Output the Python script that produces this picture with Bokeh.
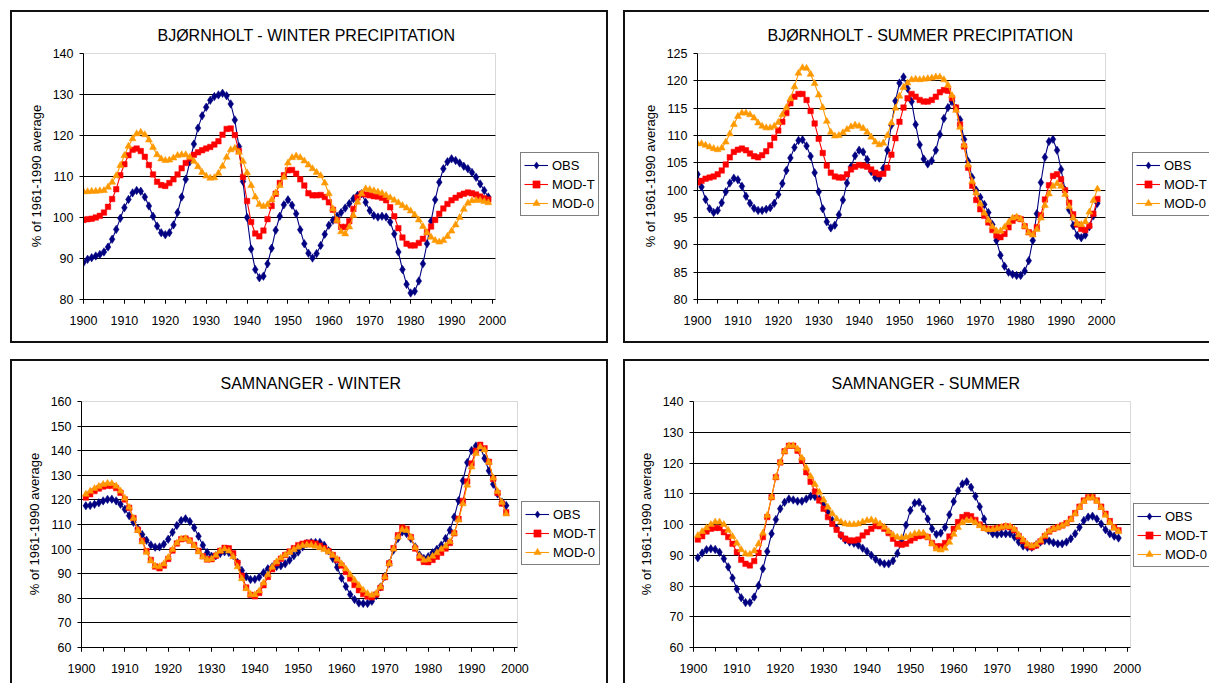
from bokeh.plotting import figure
from bokeh.models import (Range1d, SingleIntervalTicker, FixedTicker, Legend, LegendItem,
                          BoxAnnotation)
from bokeh.layouts import row, column
from bokeh.embed import file_html
from bokeh.resources import INLINE

FONT = "Liberation Sans"
C_OBS, C_MODT, C_MOD0 = "#000080", "#FF0000", "#FF9900"
YLABEL = "% of 1961-1990 average"
SERIES_NAMES = ["OBS", "MOD-T", "MOD-0"]

# ---------------- BJØRNHOLT - WINTER (1900-1999) ----------------
bw_years = list(range(1900, 2000))
bw_obs = [89.0, 89.8, 90.2, 90.6, 91.0, 91.6, 92.8, 94.7, 97.1, 99.8,
          102.4, 104.4, 106.0, 106.6, 106.4, 105.0, 102.8, 100.3, 97.9, 96.3,
          95.8, 96.3, 98.2, 101.2, 105.0, 109.3, 113.6, 117.9, 121.8, 124.8,
          126.9, 128.6, 129.5, 129.9, 130.3, 129.7, 127.7, 123.8, 117.3, 108.8,
          100.0, 92.3, 87.3, 85.3, 85.7, 88.7, 92.5, 96.9, 100.3, 103.1,
          104.3, 103.0, 100.9, 97.0, 93.6, 91.3, 90.1, 91.2, 93.2, 95.9,
          98.1, 99.3, 100.3, 101.2, 102.3, 103.4, 104.6, 105.4, 105.8, 103.7,
          101.7, 100.5, 100.1, 100.3, 100.1, 98.9, 96.0, 91.6, 87.3, 83.7,
          81.6, 82.0, 84.5, 88.7, 93.6, 99.1, 104.3, 108.6, 111.9, 113.6,
          114.3, 113.9, 113.3, 112.5, 111.9, 111.0, 109.8, 108.2, 106.6, 105.0]
bw_modt = [99.4, 99.6, 99.7, 100.0, 100.4, 101.2, 102.6, 104.5, 106.9, 110.3,
           113.0, 115.2, 116.5, 116.8, 116.2, 114.8, 112.8, 110.5, 108.7, 107.9,
           107.7, 108.4, 109.3, 110.5, 112.0, 113.3, 114.4, 115.3, 115.9, 116.4,
           116.8, 117.2, 117.8, 118.6, 120.2, 121.6, 121.7, 120.1, 116.2, 109.9,
           104.0, 98.9, 96.1, 95.4, 96.8, 99.6, 102.8, 105.8, 108.4, 110.3,
           111.5, 111.6, 110.7, 109.3, 107.8, 105.9, 105.4, 105.4, 105.5, 105.0,
           103.7, 101.9, 99.3, 97.7, 97.7, 99.1, 102.1, 104.9, 105.8, 105.6,
           105.4, 105.2, 105.1, 104.8, 104.2, 102.5, 100.3, 97.4, 95.1, 93.6,
           93.2, 93.2, 93.8, 94.8, 96.4, 97.8, 99.4, 100.9, 102.2, 103.3,
           104.2, 104.8, 105.4, 105.8, 106.1, 105.9, 105.6, 105.1, 104.7, 104.4]
bw_mod0 = [106.3, 106.3, 106.4, 106.4, 106.5, 106.6, 107.4, 108.6, 110.2, 112.7,
           115.1, 117.4, 119.2, 120.4, 120.8, 120.2, 118.9, 117.1, 115.3, 114.3,
           113.9, 114.0, 114.5, 115.1, 115.3, 115.3, 114.7, 113.7, 112.4, 111.0,
           110.1, 109.6, 109.7, 110.8, 112.5, 114.7, 116.5, 116.9, 115.9, 113.7,
           110.9, 107.8, 105.0, 103.2, 102.7, 103.1, 104.3, 106.0, 107.8, 109.8,
           113.3, 114.6, 115.0, 114.6, 113.8, 112.8, 111.9, 111.0, 110.2, 108.4,
           105.8, 102.1, 99.3, 96.5, 96.0, 97.7, 100.5, 103.7, 105.8, 107.0,
           106.8, 106.5, 106.2, 105.9, 105.4, 104.8, 104.2, 103.6, 102.9, 102.3,
           101.6, 100.6, 99.4, 97.8, 96.3, 95.2, 94.4, 94.0, 94.4, 95.4,
           96.7, 98.2, 100.0, 102.0, 103.5, 104.1, 104.2, 104.2, 103.9, 103.6]

# ---------------- BJØRNHOLT - SUMMER (1900-1999) ----------------
bs_years = list(range(1900, 2000))
bs_obs = [102.9, 100.6, 98.3, 96.6, 95.9, 96.3, 97.7, 99.7, 101.3, 102.2,
          101.9, 100.7, 98.9, 97.6, 96.7, 96.3, 96.3, 96.5, 96.8, 97.6,
          99.2, 101.2, 103.6, 105.9, 107.8, 109.1, 109.2, 108.1, 106.2, 103.2,
          99.7, 96.6, 94.2, 93.1, 93.6, 95.5, 98.2, 101.3, 104.3, 106.3,
          107.3, 107.0, 105.6, 103.4, 102.3, 102.2, 104.0, 107.3, 111.9, 116.3,
          119.6, 120.7, 118.6, 116.2, 112.0, 108.3, 105.7, 104.8, 105.4, 107.3,
          110.2, 113.1, 115.1, 116.2, 115.0, 112.9, 109.3, 105.3, 102.3, 100.0,
          98.7, 97.4, 95.9, 93.7, 90.8, 88.1, 86.1, 85.0, 84.6, 84.4,
          84.4, 85.2, 87.1, 90.8, 95.7, 101.4, 106.0, 108.9, 109.3, 107.3,
          103.8, 100.0, 96.4, 93.5, 91.7, 91.3, 91.8, 93.3, 95.3, 97.6]
bs_modt = [101.4, 101.7, 102.1, 102.3, 102.5, 102.9, 103.6, 104.7, 106.0, 107.0,
           107.4, 107.6, 107.3, 106.7, 106.2, 106.0, 106.4, 107.1, 108.2, 109.6,
           110.9, 112.5, 114.1, 115.9, 117.1, 117.6, 117.6, 116.5, 114.5, 112.2,
           109.4, 106.8, 104.5, 103.2, 102.5, 102.3, 102.3, 102.9, 103.8, 104.3,
           104.6, 104.5, 104.3, 103.8, 103.2, 102.9, 103.0, 104.1, 106.5, 109.5,
           112.5, 115.1, 116.8, 117.6, 117.1, 116.5, 116.2, 116.2, 116.5, 117.1,
           117.9, 118.3, 118.2, 116.8, 115.1, 112.0, 108.0, 104.1, 100.8, 98.2,
           96.5, 95.3, 94.1, 92.7, 91.7, 91.4, 92.0, 93.2, 94.4, 94.9,
           94.7, 93.4, 92.3, 92.0, 93.2, 95.4, 98.3, 100.9, 102.6, 102.9,
           102.0, 100.0, 97.7, 95.6, 93.7, 92.9, 92.7, 93.5, 95.7, 98.4]
bs_mod0 = [108.5, 108.5, 108.2, 107.9, 107.6, 107.4, 107.7, 108.8, 110.3, 112.0,
           113.5, 114.1, 114.1, 113.8, 113.2, 112.3, 111.7, 111.4, 111.4, 111.7,
           112.4, 113.8, 115.1, 116.7, 118.9, 121.4, 122.4, 122.3, 121.2, 119.5,
           117.4, 115.1, 112.6, 110.6, 109.9, 110.0, 110.5, 111.1, 111.6, 111.9,
           111.7, 111.3, 110.6, 109.7, 108.8, 108.3, 108.6, 110.0, 112.3, 115.0,
           117.2, 118.8, 119.6, 120.2, 120.3, 120.2, 120.3, 120.4, 120.5, 120.7,
           120.7, 120.2, 119.2, 117.3, 114.6, 111.5, 108.2, 104.6, 101.6, 99.5,
           97.5, 95.8, 94.5, 93.3, 92.5, 92.5, 93.2, 94.1, 94.9, 95.1,
           94.7, 93.4, 92.2, 91.8, 92.8, 94.9, 97.2, 99.3, 100.7, 101.2,
           100.7, 99.2, 97.0, 94.9, 93.9, 93.7, 94.2, 96.0, 98.1, 100.2]

# ---------------- SAMNANGER - WINTER (1901-1998) ----------------
sw_years = list(range(1901, 1999))
sw_obs = [117.6, 117.7, 118.2, 118.8, 119.6, 120.2, 120.3, 119.6, 118.2, 116.2,
          113.6, 110.9, 108.3, 105.9, 103.6, 101.7, 100.8, 100.9, 102.0, 104.0,
          106.8, 109.6, 111.6, 112.3, 111.2, 108.7, 105.2, 101.6, 98.6, 97.1,
          97.3, 98.2, 98.9, 98.6, 97.4, 94.6, 91.3, 88.8, 87.6, 87.7,
          88.6, 90.4, 92.0, 92.8, 92.9, 93.2, 94.0, 95.5, 97.3, 98.8,
          100.9, 102.3, 102.7, 102.7, 102.7, 101.6, 99.3, 96.2, 92.6, 88.2,
          84.8, 81.5, 79.5, 78.1, 77.9, 77.9, 78.8, 81.1, 84.6, 88.9,
          94.2, 99.6, 104.3, 107.0, 106.3, 104.3, 100.9, 97.6, 96.2, 96.9,
          98.5, 99.9, 101.6, 104.3, 107.7, 113.0, 119.7, 127.8, 135.2, 140.1,
          141.9, 141.5, 136.9, 131.8, 126.4, 122.4, 119.1, 117.7]
sw_modt = [121.0, 122.3, 123.6, 124.6, 125.4, 125.8, 125.7, 124.8, 122.9, 120.2,
           116.8, 112.6, 107.9, 103.4, 99.2, 95.6, 92.9, 92.2, 93.3, 96.0,
           99.4, 102.3, 104.0, 104.3, 103.5, 101.7, 99.3, 97.1, 95.8, 95.9,
           97.3, 99.3, 100.5, 100.3, 98.3, 94.4, 89.2, 84.4, 81.4, 80.8,
           82.2, 85.3, 88.7, 91.8, 94.2, 96.1, 97.6, 99.0, 100.4, 101.6,
           102.2, 102.6, 102.6, 102.2, 101.4, 100.4, 99.2, 97.6, 95.6, 93.3,
           90.7, 88.0, 85.4, 83.3, 81.7, 80.7, 80.4, 81.5, 84.3, 88.6,
           94.2, 100.4, 105.6, 108.8, 108.2, 104.9, 100.2, 96.4, 94.8, 94.7,
           95.6, 96.9, 98.5, 100.2, 102.5, 106.4, 112.3, 119.6, 127.5, 134.8,
           140.0, 142.4, 141.0, 135.5, 128.5, 122.8, 118.5, 115.0]
sw_mod0 = [122.3, 123.5, 124.6, 125.5, 126.3, 126.7, 126.6, 125.6, 123.6, 120.7,
           117.0, 112.5, 107.6, 102.9, 98.7, 95.2, 93.1, 92.8, 94.0, 96.6,
           99.8, 102.5, 104.1, 104.3, 103.3, 101.3, 98.9, 96.8, 95.7, 96.0,
           97.5, 99.2, 100.0, 99.2, 96.9, 92.8, 88.0, 83.9, 81.6, 81.4,
           83.0, 86.2, 89.6, 92.6, 94.8, 96.4, 97.6, 98.7, 99.8, 100.8,
           101.4, 101.7, 101.6, 101.2, 100.6, 99.8, 98.8, 97.5, 95.9, 94.0,
           91.9, 89.6, 87.3, 85.2, 83.3, 81.9, 81.2, 82.0, 84.6, 88.7,
           94.1, 100.0, 104.9, 107.9, 107.6, 104.8, 100.6, 97.1, 95.5, 95.8,
           97.1, 98.5, 99.9, 101.2, 103.0, 106.5, 111.8, 118.4, 126.0, 133.4,
           138.9, 141.5, 140.3, 135.3, 128.9, 123.4, 119.0, 114.3]

# ---------------- SAMNANGER - SUMMER (1901-1998) ----------------
ss_years = list(range(1901, 1999))
ss_obs = [89.2, 90.7, 91.8, 92.1, 91.9, 91.0, 88.9, 86.2, 82.6, 79.0,
          76.2, 74.6, 74.6, 76.4, 80.2, 85.6, 91.2, 97.0, 101.6, 105.1,
          107.2, 108.3, 108.0, 107.6, 107.6, 108.3, 109.2, 109.1, 108.3, 106.7,
          104.2, 101.3, 98.8, 96.4, 95.0, 94.3, 93.9, 93.3, 92.3, 91.2,
          90.0, 88.7, 87.7, 87.2, 87.2, 88.2, 90.6, 94.5, 99.8, 104.6,
          107.0, 107.2, 105.1, 101.8, 98.6, 96.8, 97.2, 99.1, 103.2, 107.5,
          111.0, 113.2, 113.9, 112.1, 109.2, 105.8, 101.8, 98.1, 97.0, 96.8,
          97.0, 97.0, 97.0, 95.9, 94.3, 93.0, 92.6, 92.6, 93.4, 94.3,
          94.8, 94.6, 94.1, 93.7, 93.7, 94.3, 95.4, 97.0, 99.1, 101.3,
          102.4, 102.7, 101.8, 100.2, 98.3, 97.0, 96.2, 95.6]
ss_modt = [95.1, 96.2, 97.7, 98.6, 98.9, 98.9, 97.5, 95.9, 93.7, 91.0,
           88.5, 87.2, 86.7, 88.1, 90.8, 95.9, 102.4, 108.9, 115.4, 120.2,
           123.8, 125.6, 125.6, 124.0, 120.8, 117.0, 113.9, 110.7, 107.8, 105.1,
           102.4, 100.2, 98.3, 96.6, 95.4, 94.8, 94.8, 95.1, 96.4, 97.5,
           98.6, 99.5, 99.4, 98.6, 97.2, 95.4, 93.7, 93.4, 93.7, 94.8,
           95.6, 96.2, 96.4, 95.9, 94.0, 92.9, 92.9, 94.0, 96.1, 98.6,
           100.8, 102.4, 103.1, 102.7, 101.5, 100.0, 98.9, 98.6, 98.6, 98.8,
           99.1, 99.4, 99.1, 98.1, 96.2, 94.6, 93.2, 92.6, 93.2, 94.5,
           96.2, 97.7, 98.6, 99.1, 99.7, 100.4, 101.8, 103.7, 105.8, 107.8,
           108.9, 108.9, 107.8, 105.8, 103.5, 101.1, 99.1, 98.1]
ss_mod0 = [96.4, 97.7, 98.9, 100.0, 100.8, 100.8, 100.0, 98.1, 96.1, 93.9,
           91.8, 90.5, 90.3, 91.4, 93.7, 97.2, 102.9, 108.9, 115.4, 120.2,
           123.8, 125.6, 125.6, 124.5, 121.6, 118.4, 115.6, 113.0, 110.5, 108.0,
           105.6, 103.5, 101.8, 100.8, 100.2, 100.0, 100.0, 100.2, 100.8, 101.3,
           101.5, 101.1, 100.2, 99.1, 97.7, 96.6, 95.9, 95.7, 95.9, 96.4,
           97.0, 97.2, 97.2, 95.9, 93.7, 92.0, 91.7, 92.3, 94.2, 96.8,
           99.0, 100.6, 101.3, 101.3, 100.6, 99.6, 98.7, 98.3, 98.4, 98.7,
           99.1, 99.4, 99.3, 98.4, 96.6, 95.0, 93.6, 93.0, 93.5, 94.8,
           96.4, 97.8, 98.6, 99.0, 99.6, 100.3, 101.6, 103.5, 105.6, 107.5,
           108.6, 108.7, 107.6, 105.5, 103.0, 100.6, 98.8, 97.7]


def panel(title, title_off, years, obs, modt, mod0, ylo, yhi, ystep,
          xhi, plot_w, w, h, mb, leg_xy, shadow):
    """plot_w = pixel width of the Excel plot area spanning 1900..xhi."""
    frame_w = w - mb[0] - mb[1]
    frame_h = h - mb[2] - mb[3]
    px_per_year = plot_w / (xhi - 1900)
    x_end = 1900 + frame_w / px_per_year          # frame also holds the legend area
    y_top = yhi + (yhi - ylo) / (frame_h - 1)     # one spare pixel above the plot area

    p = figure(width=w, height=h, x_range=Range1d(1900, x_end), y_range=Range1d(ylo, y_top),
               output_backend="svg", toolbar_location=None,
               min_border_left=mb[0], min_border_right=mb[1],
               min_border_top=mb[2], min_border_bottom=mb[3])
    p.border_fill_color = None
    p.background_fill_color = None
    p.outline_line_color = None
    p.styles = {"background-color": "white", "box-shadow": shadow}

    p.title.text = title
    p.title.align = "left"
    p.title.offset = title_off
    p.title.standoff = 18
    p.title.text_font = FONT
    p.title.text_font_size = "16px"
    p.title.text_font_style = "normal"
    p.title.text_color = "black"

    xa = p.xaxis[0]
    xa.ticker = SingleIntervalTicker(interval=10, num_minor_ticks=2)
    xa.bounds = (1900, xhi)
    ya = p.yaxis[0]
    ya.ticker = SingleIntervalTicker(interval=ystep, num_minor_ticks=0)
    ya.bounds = (ylo, yhi)
    for ax in (xa, ya):
        ax.axis_line_color = "black"
        ax.major_tick_line_color = "black"
        ax.minor_tick_line_color = "black"
        ax.major_tick_out = 4
        ax.major_tick_in = 0
        ax.minor_tick_out = 4
        ax.minor_tick_in = 0
        ax.major_label_text_font = FONT
        ax.major_label_text_font_size = "12.5px"
        ax.major_label_text_color = "black"
    xa.major_label_standoff = 12
    ya.major_label_standoff = 6
    ya.axis_label = YLABEL
    ya.axis_label_text_font = FONT
    ya.axis_label_text_font_size = "13px"
    ya.axis_label_text_font_style = "normal"
    ya.axis_label_text_color = "black"
    ya.axis_label_standoff = 6

    # horizontal gridlines only across the plot area
    p.xgrid.visible = False
    grid = p.ygrid[0]
    grid.ticker = FixedTicker(ticks=list(range(ylo + ystep, yhi, ystep)))
    grid.grid_line_color = "black"
    grid.grid_line_width = 1
    if "cross_bounds" in grid.properties():
        grid.cross_bounds = (1900, xhi)
    else:
        grid.visible = False
        gy = list(range(ylo + ystep, yhi, ystep))
        p.segment(x0=[1900] * len(gy), x1=[xhi] * len(gy), y0=gy, y1=gy,
                  line_color="black", line_width=1, level="underlay")

    # Excel-style plot area border (grey)
    p.add_layout(BoxAnnotation(left=1900, right=xhi, bottom=ylo, top=yhi, level="underlay",
                               fill_alpha=0.0, line_color="#808080", line_width=1))

    l1 = p.line(years, obs, line_color=C_OBS, line_width=1.1)
    s1 = p.scatter(years, obs, marker="diamond", size=8.5,
                   fill_color=C_OBS, line_color=C_OBS, line_width=0.5)
    l2 = p.line(years, modt, line_color=C_MODT, line_width=1.1)
    s2 = p.scatter(years, modt, marker="square", size=5.5,
                   fill_color=C_MODT, line_color=C_MODT, line_width=0.5)
    l3 = p.line(years, mod0, line_color=C_MOD0, line_width=1.1)
    s3 = p.scatter(years, mod0, marker="triangle", size=7,
                   fill_color=C_MOD0, line_color=C_MOD0, line_width=0.5)

    items = [LegendItem(label=SERIES_NAMES[0], renderers=[l1, s1]),
             LegendItem(label=SERIES_NAMES[1], renderers=[l2, s2]),
             LegendItem(label=SERIES_NAMES[2], renderers=[l3, s3])]
    leg = Legend(items=items, location=leg_xy, margin=0, padding=3, spacing=1,
                 glyph_width=24, glyph_height=18, label_height=18, label_standoff=4,
                 border_line_color="black", border_line_width=1,
                 background_fill_color="white", background_fill_alpha=1.0,
                 label_text_font=FONT, label_text_font_size="13px",
                 label_text_color="black")
    p.add_layout(leg)
    return p


p1 = panel("BJØRNHOLT - WINTER PRECIPITATION", 74, bw_years, bw_obs, bw_modt, bw_mod0,
           80, 140, 10, 2000.75, 412, 598, 333, (73, 4, 42, 44), (437, 83),
           "inset 2px 2px 0 0 #111, inset -2px -2px 0 0 #111")
p2 = panel("BJØRNHOLT -  SUMMER PRECIPITATION", 70, bs_years, bs_obs, bs_modt, bs_mod0,
           80, 125, 5, 2001.0, 408, 586, 333, (74, 0, 41, 44), (435, 83),
           "inset 2px 2px 0 0 #111, inset 0 -2px 0 0 #111")
p3 = panel("SAMNANGER - WINTER", 139, sw_years, sw_obs, sw_modt, sw_mod0,
           60, 160, 10, 2000.6, 436, 598, 324, (71, 4, 40, 35), (440, 82),
           "inset 2px 2px 0 0 #111, inset -2px 0 0 0 #111")
p4 = panel("SAMNANGER - SUMMER", 138, ss_years, ss_obs, ss_modt, ss_mod0,
           60, 140, 10, 2000.76, 437, 586, 324, (70, 0, 41, 36), (440, 80),
           "inset 2px 2px 0 0 #111")

top = row(p1, p2, spacing=15)
bottom = row(p3, p4, spacing=15)
root = column(top, bottom, spacing=16, margin=(10, 0, 0, 10))

open("out.html", "w").write(file_html(root, INLINE))
